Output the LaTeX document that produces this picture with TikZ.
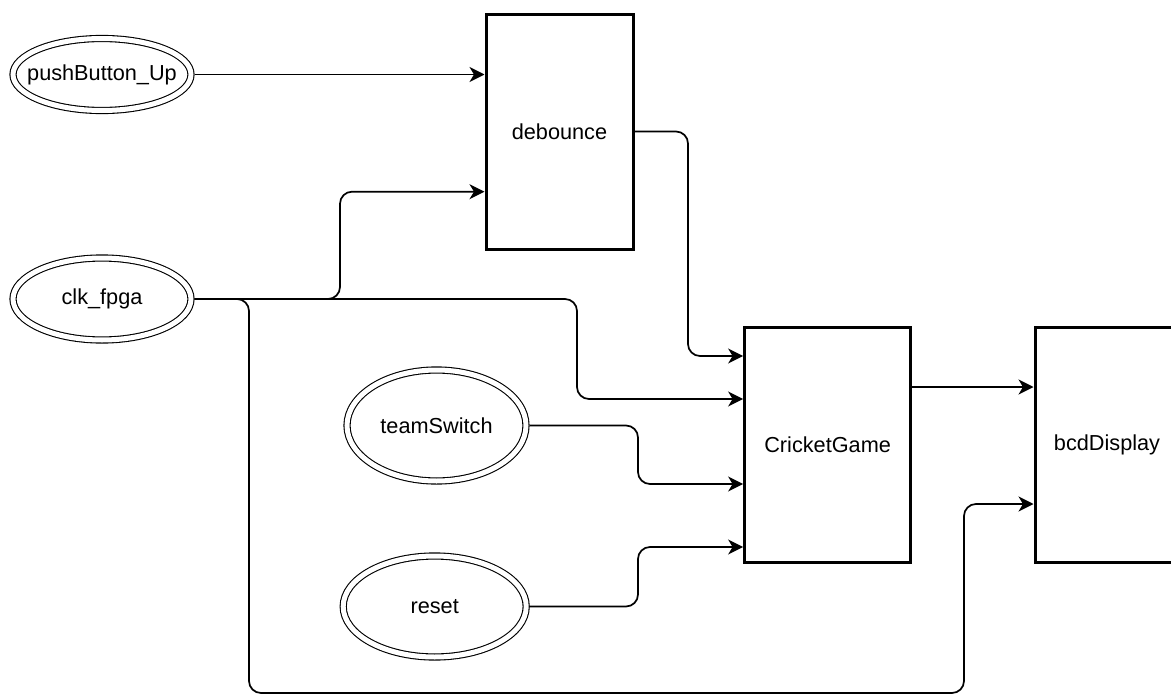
\documentclass[tikz,border=0pt]{standalone}
\usepackage{fontspec}
\setmainfont{Liberation Sans}
\usetikzlibrary{arrows.meta,shapes.geometric}
\begin{document}
\begin{tikzpicture}[x=1pt,y=-1pt,
  font=\fontsize{21.7}{26}\selectfont,
  inp/.style={ellipse, draw, double, double distance=5pt, line width=1.1pt, inner sep=0pt, outer sep=3.6pt},
  blk/.style={rectangle, draw, line width=3pt, inner sep=0pt, minimum height=235pt},
  conn/.style={draw, line width=1.7pt, rounded corners=12pt, -{Stealth[length=15pt,width=15pt,inset=4.5pt]}}
]
\useasboundingbox (0,0) rectangle (1171,696);
\fill[white] (0,0) rectangle (1171,696);

\node[inp, inner xsep=-25pt, minimum width=178pt, minimum height=72pt] (push) at (102,74.5) {pushButton\_Up};
\node[inp, minimum width=178pt, minimum height=82pt] (clk) at (102,299) {clk\_fpga};
\node[inp, minimum width=179pt, minimum height=111pt] (team) at (436.5,425.5) {teamSwitch};
\node[inp, minimum width=183pt, minimum height=101pt] (reset) at (434.7,606.5) {reset};

\node[blk, minimum width=147pt] (debounce) at (559.5,131.5) {debounce};
\node[blk, minimum width=166pt] (cricket) at (827.6,444.5) {CricketGame};
\node[blk, minimum width=144pt] (bcd) at (1107,444.5) {bcdDisplay};

\coordinate (cA) at (340,191.7);
\coordinate (cB) at (577,399);
\coordinate (cC) at (249,693);
\coordinate (cD) at (964,504);
\coordinate (dA) at (688,356);
\coordinate (tA) at (638,484);
\coordinate (rA) at (638,547);
\coordinate (gA) at (0,387);

\draw[conn] (push.east) -- (push.east -| debounce.west);
\draw[conn] (clk.east) -| (cA) -- (debounce.west |- cA);
\draw[conn] (clk.east) -| (cB) -- (cricket.west |- cB);
\draw[conn] (clk.east) -| (cC) -| (cD) -- (bcd.west |- cD);
\draw[conn] (debounce.east) -| (dA) -- (cricket.west |- dA);
\draw[conn] (team.east) -| (tA) -- (cricket.west |- tA);
\draw[conn] (reset.east) -| (rA) -- (cricket.west |- rA);
\draw[conn] (cricket.east |- gA) -- (bcd.west |- gA);
\end{tikzpicture}
\end{document}
